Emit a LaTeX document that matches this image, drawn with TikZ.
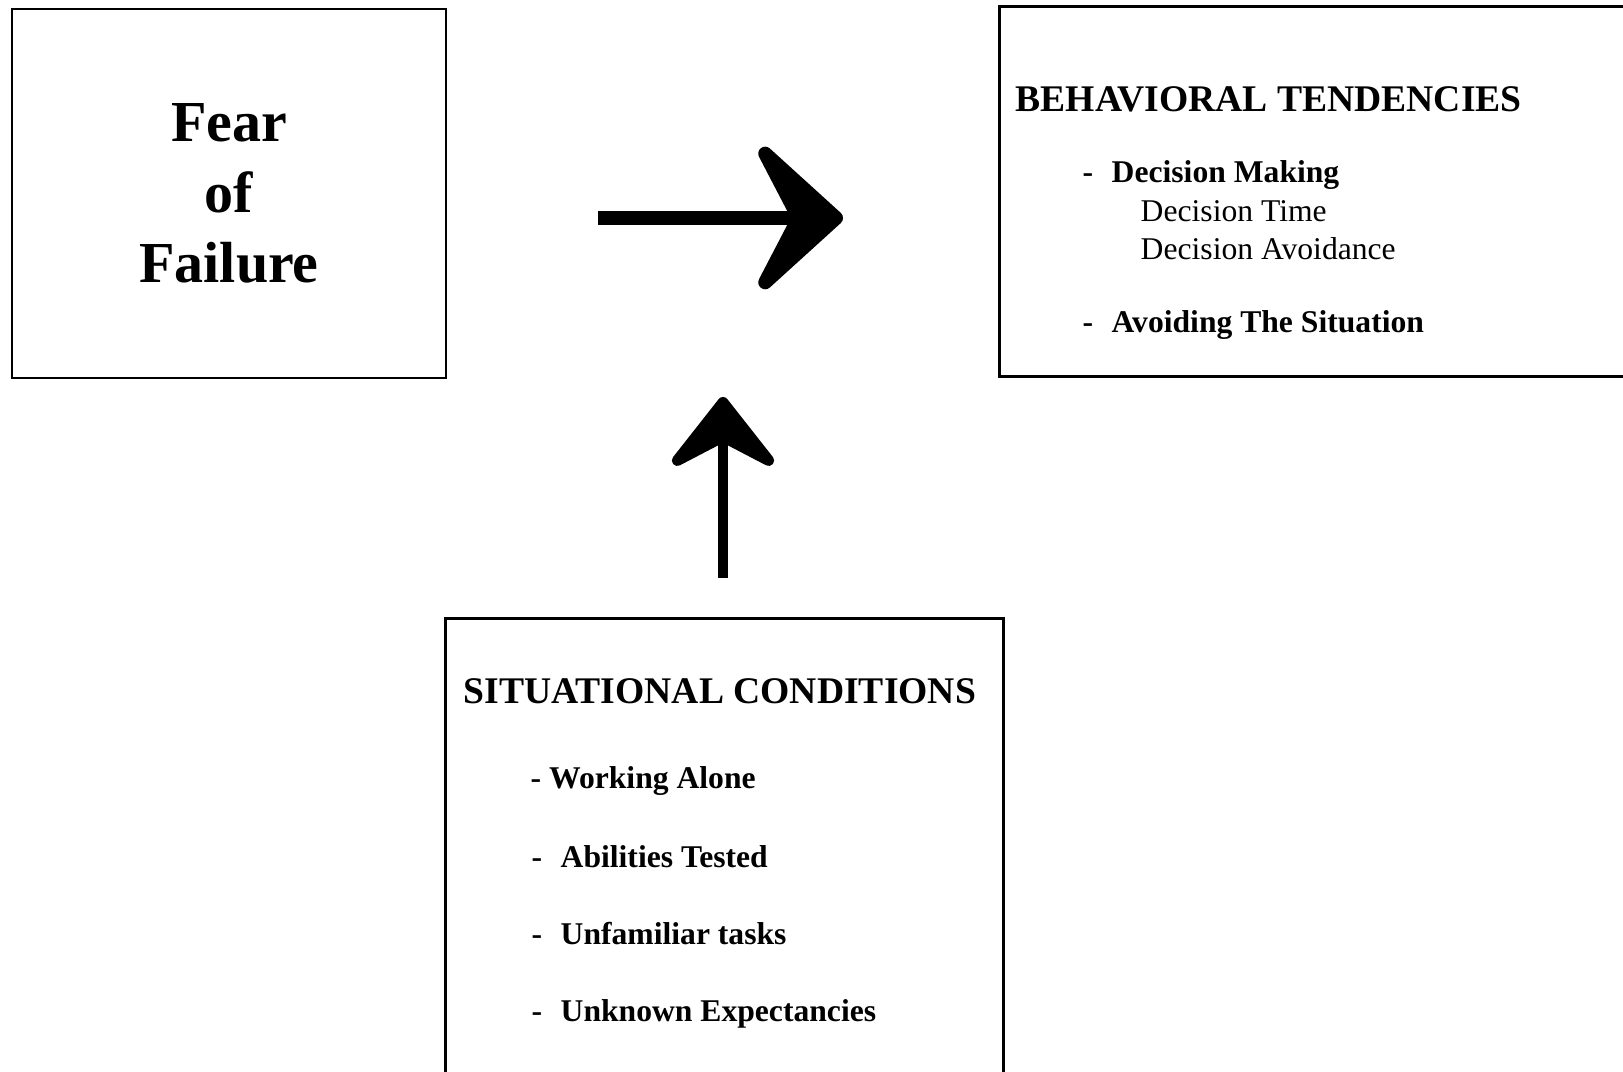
\documentclass[tikz,border=0pt]{standalone}
\usepackage{fontspec}
\setmainfont{Liberation Serif}
\usetikzlibrary{arrows.meta, positioning}

\newcommand{\dashitem}[1]{\makebox[0.29cm][l]{-}#1}

\tikzset{
	frame/.style={line width=0.8pt},
	fearbox/.style={draw, frame, inner sep=0pt, minimum width=4.34cm, minimum height=3.69cm, align=center, font=\bfseries\fontsize{16.5}{20.1}\selectfont},
	headtext/.style={anchor=base west, inner sep=0pt, font=\bfseries\fontsize{10.7}{12}\selectfont},
	itemtext/.style={anchor=base west, inner sep=0pt, font=\bfseries\fontsize{9}{11}\selectfont},
	subtext/.style={anchor=base west, inner sep=0pt, font=\fontsize{9}{11}\selectfont},
	bigarrow/.style={line width=4pt, -{Stealth[length=29.8pt, width=54pt, inset=14pt, round]}},
	uparrow/.style={line width=3.1pt, -{Stealth[length=23.6pt, width=37pt, inset=9.6pt, round]}}
}

\begin{document}
\begin{tikzpicture}
	\useasboundingbox (0,0) rectangle (16.23,10.72);
	
	% 1. Fear of Failure
	\node[fearbox] (fear) at (2.29, 8.785) {Fear\\of\\Failure};
	
	% 2. Behavioral tendencies (right side runs off the page)
	\node[inner sep=0pt, minimum width=6.23cm, minimum height=3.69cm] (behav) at (13.115, 8.805) {};
	\draw[frame] (behav.north east) -- (behav.north west) -- (behav.south west) -- (behav.south east);
	\node[headtext] (behavhead) at (10.15, 9.60) {BEHAVIORAL TENDENCIES};
	\node[itemtext] (decmaking) at (10.82, 8.89) {\dashitem{Decision Making}};
	\node[subtext] (dectime) at (11.40, 8.50) {Decision Time};
	\node[subtext] (decavoid) at (11.40, 8.12) {Decision Avoidance};
	\node[itemtext] (avoidsit) at (10.82, 7.39) {\dashitem{Avoiding The Situation}};
	
	% 3. Situational conditions (bottom runs off the page)
	\node[inner sep=0pt, minimum width=5.57cm, minimum height=4.53cm] (sit) at (7.245, 2.265) {};
	\draw[frame] (sit.south west) -- (sit.north west) -- (sit.north east) -- (sit.south east);
	\node[headtext] (sithead) at (4.63, 3.68) {SITUATIONAL CONDITIONS};
	\node[itemtext] (alone) at (5.30, 2.83) {- Working Alone};
	\node[itemtext] (tested) at (5.31, 2.04) {\dashitem{Abilities Tested}};
	\node[itemtext] (unfam) at (5.31, 1.27) {\dashitem{Unfamiliar tasks}};
	\node[itemtext] (unknown) at (5.31, 0.50) {\dashitem{Unknown Expectancies}};
	
	% Arrows
	\coordinate (hstart) at (5.98, 8.54);
	\coordinate (htip) at (8.43, 8.54);
	\draw[bigarrow] (hstart) -- (htip);
	
	\coordinate (vstart) at (7.23, 4.94);
	\coordinate (vtip) at (7.23, 6.75);
	\draw[uparrow] (vstart) -- (vtip);
	
\end{tikzpicture}
\end{document}
